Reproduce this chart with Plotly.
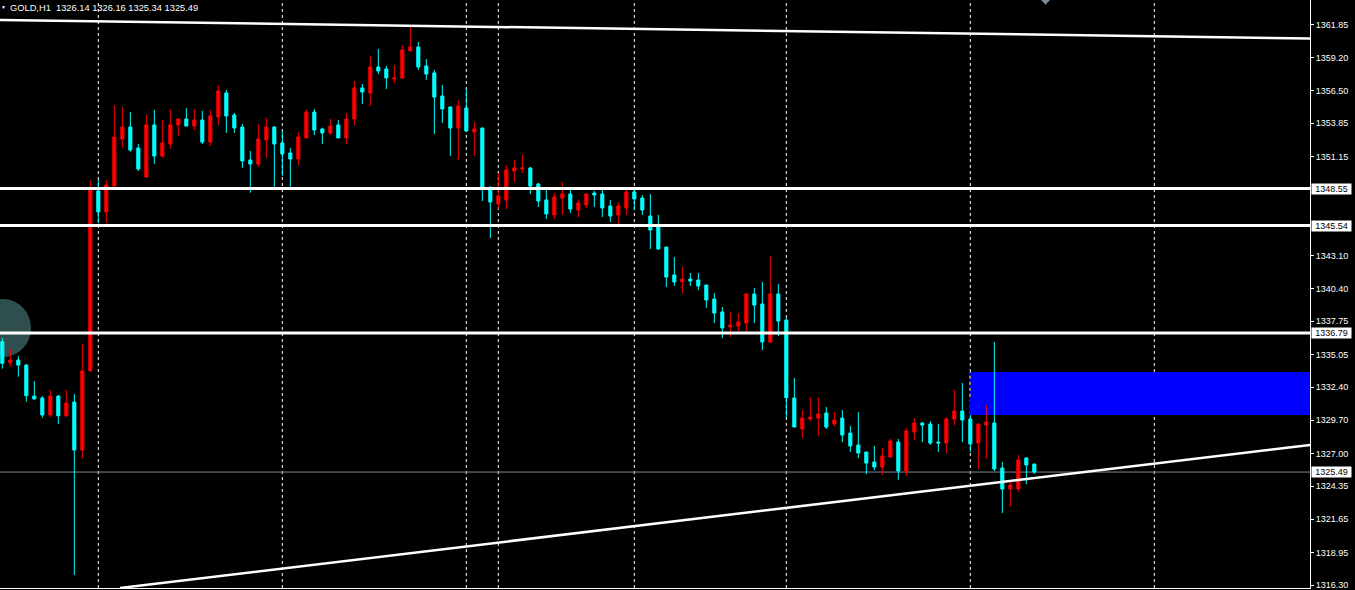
import plotly.graph_objects as go

# ---- data (GOLD, H1) ----
opens = [1336.09, 1334.38, 1334.60, 1334.19, 1331.67, 1331.51, 1330.13, 1331.67, 1330.07, 1331.18,
         1327.28, 1333.71, 1348.35, 1346.64, 1348.75, 1352.58, 1353.55, 1351.85, 1349.49, 1353.72,
         1351.19, 1352.17, 1353.72, 1354.20, 1353.63, 1354.12, 1352.33, 1354.37, 1356.32, 1354.53,
         1353.55, 1350.87, 1350.54, 1352.50, 1353.55, 1352.25, 1351.44, 1350.95, 1352.68, 1354.77,
         1353.39, 1353.07, 1353.72, 1352.66, 1354.20, 1356.73, 1356.32, 1358.43, 1358.27, 1357.46,
         1357.54, 1359.74, 1360.06, 1358.52, 1357.95, 1356.07, 1355.18, 1353.47, 1355.10, 1353.15,
         1353.47, 1348.43, 1347.29, 1347.62, 1349.97, 1350.14, 1350.22, 1348.92, 1347.62, 1346.40,
         1347.78, 1348.10, 1346.80, 1347.21, 1348.18, 1348.10, 1347.13, 1346.40, 1346.97, 1348.27,
         1347.78, 1346.31, 1345.44, 1343.79, 1341.52, 1340.95, 1341.19, 1341.11, 1340.70, 1339.56,
         1338.51, 1337.29, 1337.37, 1337.61, 1339.97, 1339.16, 1336.07, 1339.97, 1337.85, 1331.51,
         1328.99, 1329.80, 1329.88, 1330.29, 1329.40, 1329.88, 1328.66, 1327.69, 1327.12, 1326.30,
         1325.90, 1326.71, 1327.93, 1325.57, 1328.75, 1329.48, 1329.40, 1327.93, 1327.85, 1329.80,
         1330.45, 1329.80, 1327.85, 1329.31, 1329.48, 1325.82, 1324.11, 1324.11, 1326.63, 1326.14]
highs = [1336.40, 1335.47, 1334.93, 1334.27, 1332.89, 1331.67, 1332.16, 1331.75, 1332.16, 1331.83,
         1335.90, 1349.24, 1349.24, 1349.24, 1355.34, 1355.18, 1354.77, 1352.17, 1354.53, 1354.94,
         1354.12, 1355.02, 1354.25, 1355.10, 1355.02, 1354.85, 1354.94, 1356.97, 1356.56, 1354.69,
         1353.80, 1351.60, 1353.80, 1354.29, 1353.63, 1353.23, 1351.85, 1353.15, 1354.94, 1355.02,
         1353.50, 1354.20, 1354.12, 1354.69, 1357.30, 1357.05, 1359.33, 1359.90, 1358.52, 1358.60,
         1360.22, 1361.69, 1360.47, 1359.08, 1358.19, 1356.97, 1355.20, 1355.75, 1356.64, 1353.96,
         1353.50, 1348.75, 1349.81, 1350.46, 1350.87, 1351.28, 1350.30, 1349.00, 1348.43, 1348.18,
         1349.08, 1348.43, 1347.62, 1348.18, 1348.35, 1348.43, 1347.62, 1347.45, 1348.43, 1348.43,
         1348.02, 1348.10, 1346.40, 1343.80, 1342.98, 1342.17, 1341.68, 1341.68, 1340.72, 1340.05,
         1338.91, 1338.51, 1338.42, 1340.05, 1340.46, 1340.95, 1343.06, 1340.78, 1338.00, 1333.14,
         1330.53, 1331.59, 1331.59, 1330.78, 1330.37, 1330.53, 1329.23, 1330.37, 1327.14, 1327.61,
         1327.45, 1328.18, 1328.18, 1329.07, 1329.88, 1329.56, 1329.64, 1329.40, 1329.96, 1332.16,
         1332.73, 1330.13, 1329.42, 1330.94, 1336.07, 1326.30, 1324.68, 1326.87, 1326.71, 1326.16]
lows = [1333.90, 1334.06, 1333.24, 1331.21, 1331.40, 1329.91, 1329.96, 1329.40, 1329.96, 1317.11,
        1326.55, 1333.65, 1345.74, 1345.74, 1348.70, 1351.87, 1351.54, 1349.97, 1349.40, 1350.54,
        1351.06, 1351.76, 1352.82, 1353.60, 1353.31, 1352.17, 1352.01, 1353.72, 1353.07, 1353.07,
        1350.22, 1348.21, 1350.30, 1351.03, 1348.67, 1349.57, 1348.67, 1350.46, 1352.58, 1352.90,
        1352.17, 1352.90, 1352.66, 1352.17, 1353.72, 1355.42, 1355.26, 1357.86, 1356.64, 1357.13,
        1357.46, 1359.70, 1358.19, 1357.38, 1352.98, 1353.88, 1351.19, 1350.87, 1353.20, 1351.19,
        1347.53, 1344.52, 1346.88, 1346.88, 1349.08, 1349.81, 1348.10, 1347.05, 1346.07, 1346.07,
        1346.40, 1346.56, 1346.23, 1346.97, 1347.05, 1346.23, 1345.83, 1345.66, 1346.40, 1346.80,
        1346.40, 1343.63, 1343.55, 1340.54, 1340.62, 1340.05, 1340.62, 1340.30, 1338.83, 1337.61,
        1336.39, 1336.47, 1336.96, 1336.88, 1337.61, 1335.41, 1335.98, 1336.55, 1329.88, 1329.15,
        1328.26, 1329.64, 1328.42, 1328.99, 1329.23, 1327.93, 1327.12, 1326.63, 1325.33, 1325.65,
        1325.25, 1326.68, 1324.84, 1325.17, 1328.09, 1327.93, 1327.69, 1327.12, 1327.04, 1329.31,
        1327.93, 1327.12, 1325.74, 1326.55, 1325.57, 1322.16, 1322.65, 1323.86, 1324.51, 1325.34]
closes = [1334.33, 1334.60, 1334.19, 1331.70, 1331.43, 1330.13, 1331.67, 1330.07, 1331.10, 1327.28,
          1333.71, 1348.59, 1346.64, 1348.84, 1352.74, 1353.55, 1351.68, 1350.14, 1353.72, 1351.19,
          1352.25, 1353.72, 1354.20, 1353.63, 1354.12, 1352.33, 1354.45, 1356.48, 1354.45, 1353.47,
          1350.79, 1350.54, 1352.58, 1353.55, 1352.17, 1351.36, 1350.95, 1352.74, 1354.77, 1353.31,
          1353.07, 1353.63, 1352.66, 1354.20, 1356.73, 1356.40, 1358.43, 1358.11, 1357.54, 1357.54,
          1359.82, 1360.06, 1358.43, 1357.86, 1355.99, 1355.02, 1353.47, 1355.26, 1353.23, 1353.39,
          1348.59, 1347.45, 1347.94, 1350.06, 1350.22, 1350.22, 1348.75, 1347.53, 1346.48, 1347.86,
          1348.10, 1346.88, 1347.37, 1348.10, 1348.02, 1346.97, 1346.31, 1347.13, 1348.27, 1347.70,
          1346.80, 1345.17, 1343.63, 1341.35, 1340.95, 1341.19, 1341.03, 1340.62, 1339.48, 1338.42,
          1337.21, 1337.45, 1337.69, 1339.97, 1339.07, 1336.07, 1339.97, 1337.77, 1331.53, 1329.15,
          1329.88, 1329.96, 1330.21, 1329.15, 1329.72, 1328.50, 1327.61, 1327.04, 1326.22, 1325.90,
          1326.79, 1328.01, 1325.57, 1328.83, 1329.48, 1329.31, 1327.85, 1327.85, 1329.80, 1330.45,
          1329.72, 1327.77, 1329.40, 1329.56, 1325.74, 1324.11, 1324.43, 1326.47, 1326.06, 1325.49]

bars = list(range(len(opens)))

symbol = "GOLD,H1"
axis_ticks = [1361.85, 1359.20, 1356.50, 1353.85, 1351.15, 1343.10, 1340.40, 1337.75,
              1335.05, 1332.40, 1329.70, 1327.00, 1324.35, 1321.65, 1318.95, 1316.30]
level_lines = [1348.55, 1345.54, 1336.79]
bid_price = 1325.49
grid_bars = [12, 35, 58, 62, 79, 98, 121, 144]
zone_price = [1330.13, 1333.62]
zone_start_bar = 120.96
zone_edge_low = 1331.60
upper_trend = [(-0.29, 1362.26), (163.46, 1360.75)]
lower_trend = [(14.71, 1316.06), (163.46, 1327.69)]
circle_marker = (0.09, 1337.20)
shift_marker_bar = 130.4

x_range = [-0.29, 163.46]
y_range = [1316.06, 1363.88]

FONT = "Liberation Sans"

fig = go.Figure()
fig.add_trace(go.Candlestick(
    x=bars, open=opens, high=highs, low=lows, close=closes,
    increasing=dict(line=dict(color="#FF0000", width=1), fillcolor="#FF0000"),
    decreasing=dict(line=dict(color="#00FFFF", width=1), fillcolor="#00FFFF"),
    whiskerwidth=0, showlegend=False, hoverinfo="skip",
))

shapes = []
# dashed vertical grid
for g in grid_bars:
    shapes.append(dict(type="line", xref="x", yref="paper", x0=g, x1=g, y0=0, y1=1,
                       line=dict(color="#FFFFFF", width=1, dash="3px,3px"), layer="below"))
# grey circle marker
cx, cy = circle_marker
shapes.append(dict(type="circle", xref="x", yref="y", x0=cx - 3.5, x1=cx + 3.5,
                   y0=cy - 2.36, y1=cy + 2.36, fillcolor="#2F4F4F",
                   line=dict(width=0), layer="below"))
# blue zone
shapes.append(dict(type="rect", xref="x", yref="y", x0=zone_start_bar, x1=x_range[1],
                   y0=zone_price[0], y1=zone_price[1], fillcolor="#0000FF",
                   line=dict(width=0), layer="below"))
shapes.append(dict(type="line", xref="x", yref="y", x0=zone_start_bar, x1=zone_start_bar,
                   y0=zone_edge_low, y1=zone_price[1],
                   line=dict(color="#FFFF00", width=1, dash="3px,3px"), layer="below"))
# bid line
shapes.append(dict(type="line", xref="paper", yref="y", x0=0, x1=1, y0=bid_price, y1=bid_price,
                   line=dict(color="#778899", width=1), layer="below"))
# horizontal levels
for lv in level_lines:
    shapes.append(dict(type="line", xref="paper", yref="y", x0=0, x1=1, y0=lv, y1=lv,
                       line=dict(color="#FFFFFF", width=3), layer="above"))
# trend lines
for tr in (upper_trend, lower_trend):
    shapes.append(dict(type="line", xref="x", yref="y", x0=tr[0][0], y0=tr[0][1],
                       x1=tr[1][0], y1=tr[1][1],
                       line=dict(color="#FFFFFF", width=2.5), layer="above"))
# shift marker at top
s = shift_marker_bar
shapes.append(dict(type="path", xref="x", yref="y",
                   path=f"M {s-0.56},{y_range[1]} L {s+0.56},{y_range[1]} L {s},{y_range[1]-0.38} Z",
                   fillcolor="#778899", line=dict(width=0), layer="above"))

annotations = []
header = f"{symbol}\u00a0\u00a0{opens[-1]:.2f} {highs[-1]:.2f} {lows[-1]:.2f} {closes[-1]:.2f}"
annotations.append(dict(xref="paper", yref="paper", x=0, y=1, xanchor="left", yanchor="top",
                        xshift=8, yshift=-1, text=header, showarrow=False,
                        font=dict(family=FONT, size=9.3, color="#FFFFFF")))
annotations.append(dict(xref="paper", yref="paper", x=0, y=1, xanchor="left", yanchor="top",
                        xshift=-1, yshift=-2, text="\u25BC", showarrow=False,
                        font=dict(family=FONT, size=5, color="#FFFFFF")))
for lv in level_lines + [bid_price]:
    annotations.append(dict(xref="paper", yref="y", x=1, y=lv, xanchor="left", yanchor="middle",
                            xshift=1, text=f"{lv:.2f}", showarrow=False, bgcolor="#FFFFFF",
                            width=39, height=10, align="center", borderpad=0,
                            font=dict(family=FONT, size=9, color="#000000")))

fig.update_layout(
    width=1355, height=590,
    margin=dict(l=0, r=45, t=0, b=2),
    paper_bgcolor="#000000", plot_bgcolor="#000000",
    shapes=shapes, annotations=annotations,
    boxgap=0.45,
    xaxis=dict(range=x_range, showgrid=False, zeroline=False, showticklabels=False,
               showline=True, linecolor="#FFFFFF", linewidth=1, rangeslider=dict(visible=False),
               fixedrange=True),
    yaxis=dict(range=y_range, side="right", showgrid=False, zeroline=False,
               tickvals=axis_ticks, ticktext=[f"{t:.2f}" for t in axis_ticks],
               ticks="outside", ticklen=3, tickcolor="#FFFFFF", ticklabeloverflow="allow",
               showline=True, linecolor="#FFFFFF", linewidth=1,
               tickfont=dict(family=FONT, size=9, color="#FFFFFF"), fixedrange=True),
)

fig.write_html("out.html", config={"displayModeBar": False},
               post_script="document.body.style.margin='0';document.body.style.background='#000';")
